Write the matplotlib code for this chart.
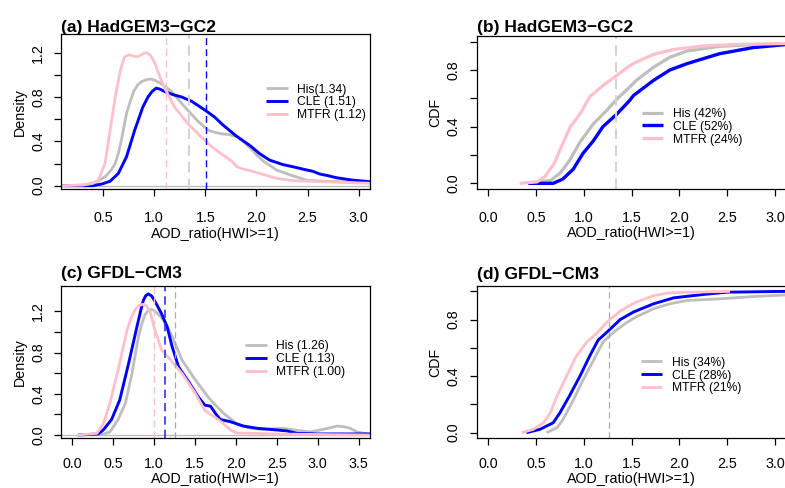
import matplotlib
matplotlib.use('Agg')
import matplotlib.pyplot as plt
import numpy as np

plt.rcParams['font.family'] = ['Liberation Sans', 'DejaVu Sans']

W, H = 785, 488

# ---------------- data ----------------
# (a) HadGEM3-GC2 densities
a_his_x = [0.09, 0.30, 0.43, 0.52, 0.58, 0.62, 0.65, 0.68, 0.73, 0.77, 0.80, 0.84, 0.88, 0.92, 0.96, 1.00, 1.07,
           1.17, 1.30, 1.43, 1.53, 1.60, 1.67, 1.74, 1.81, 1.87, 1.94, 2.00, 2.07, 2.20, 2.33, 2.49, 2.66, 3.11]
a_his_y = [0.0, 0.005, 0.03, 0.08, 0.14, 0.20, 0.29, 0.41, 0.65, 0.77, 0.85, 0.91, 0.94, 0.955, 0.963, 0.955, 0.92,
           0.85, 0.71, 0.58, 0.50, 0.48, 0.467, 0.46, 0.44, 0.40, 0.34, 0.28, 0.22, 0.14, 0.097, 0.05, 0.04, 0.03]
a_cle_x = [0.09, 0.40, 0.49, 0.57, 0.65, 0.73, 0.81, 0.89, 0.94, 0.98, 1.02, 1.06, 1.10, 1.19, 1.27, 1.37, 1.50,
           1.59, 1.67, 1.80, 1.94, 2.03, 2.13, 2.26, 2.36, 2.46, 2.55, 2.62, 2.70, 2.78, 2.94, 3.11]
a_cle_y = [0.0, 0.0, 0.015, 0.04, 0.11, 0.26, 0.50, 0.71, 0.80, 0.85, 0.88, 0.87, 0.85, 0.82, 0.80, 0.76, 0.68,
           0.62, 0.55, 0.45, 0.36, 0.29, 0.23, 0.19, 0.17, 0.148, 0.13, 0.105, 0.09, 0.072, 0.05, 0.036]
a_mtfr_x = [0.09, 0.30, 0.40, 0.455, 0.52, 0.57, 0.62, 0.67, 0.71, 0.75, 0.78, 0.81, 0.84, 0.87, 0.90, 0.93, 0.97,
            1.01, 1.07, 1.12, 1.20, 1.33, 1.46, 1.545, 1.62, 1.70, 1.76, 1.81, 1.87, 1.94, 2.07, 2.20, 2.36, 2.62,
            3.11]
a_mtfr_y = [0.0, 0.005, 0.02, 0.05, 0.20, 0.50, 0.80, 1.04, 1.16, 1.18, 1.175, 1.165, 1.165, 1.18, 1.195, 1.20,
            1.17, 1.10, 0.95, 0.85, 0.71, 0.56, 0.44, 0.367, 0.31, 0.26, 0.22, 0.17, 0.15, 0.135, 0.10, 0.066, 0.045,
            0.036, 0.022]
a_means = [1.34, 1.51, 1.12]
a_labels = ['His(1.34)', 'CLE (1.51)', 'MTFR (1.12)']

# (b) HadGEM3-GC2 CDFs
b_his_x = [0.42, 0.65, 0.75, 0.85, 0.96, 1.10, 1.24, 1.34, 1.48, 1.55, 1.73, 1.90, 2.08, 2.42, 2.77, 3.12]
b_his_y = [0.0, 0.02, 0.07, 0.16, 0.29, 0.42, 0.515, 0.59, 0.68, 0.727, 0.82, 0.89, 0.934, 0.967, 0.979, 0.985]
b_cle_x = [0.42, 0.68, 0.78, 0.89, 0.99, 1.10, 1.20, 1.34, 1.48, 1.52, 1.73, 1.90, 2.08, 2.25, 2.42, 2.77, 3.12]
b_cle_y = [0.0, 0.0, 0.03, 0.10, 0.21, 0.30, 0.40, 0.485, 0.585, 0.62, 0.727, 0.80, 0.845, 0.88, 0.915, 0.958, 0.98]
b_mtfr_x = [0.33, 0.51, 0.59, 0.69, 0.78, 0.86, 0.97, 1.06, 1.20, 1.34, 1.48, 1.55, 1.73, 1.94, 2.25, 2.60, 3.12]
b_mtfr_y = [0.0, 0.01, 0.045, 0.14, 0.28, 0.40, 0.50, 0.61, 0.69, 0.76, 0.83, 0.856, 0.91, 0.945, 0.97, 0.98, 0.987]
b_thresh = 1.34
b_labels = ['His (42%)', 'CLE (52%)', 'MTFR (24%)']

# (c) GFDL-CM3 densities
c_his_x = [0.35, 0.46, 0.56, 0.65, 0.73, 0.81, 0.85, 0.89, 0.92, 0.95, 0.99, 1.03, 1.08, 1.13, 1.22, 1.34, 1.50,
           1.66, 1.75, 1.85, 2.01, 2.15, 2.30, 2.45, 2.58, 2.75, 2.91, 3.07, 3.24, 3.32, 3.40, 3.48, 3.64]
c_his_y = [0.0, 0.03, 0.15, 0.31, 0.60, 0.96, 1.08, 1.17, 1.20, 1.22, 1.215, 1.19, 1.15, 1.10, 0.96, 0.73, 0.54,
           0.37, 0.29, 0.21, 0.11, 0.07, 0.055, 0.06, 0.065, 0.045, 0.03, 0.055, 0.087, 0.08, 0.065, 0.03, 0.005]
c_cle_x = [0.07, 0.32, 0.38, 0.48, 0.58, 0.69, 0.79, 0.84, 0.87, 0.90, 0.93, 0.97, 1.01, 1.09, 1.16, 1.22, 1.30,
           1.42, 1.54, 1.62, 1.69, 1.75, 1.81, 1.93, 2.09, 2.26, 2.50, 2.62, 2.75, 3.00, 3.64]
c_cle_y = [0.0, 0.01, 0.05, 0.15, 0.34, 0.70, 1.05, 1.22, 1.31, 1.355, 1.37, 1.35, 1.30, 1.18, 1.05, 0.86, 0.66,
           0.52, 0.37, 0.29, 0.28, 0.21, 0.15, 0.13, 0.087, 0.065, 0.049, 0.04, 0.016, 0.01, 0.01]
c_mtfr_x = [0.07, 0.30, 0.38, 0.46, 0.56, 0.67, 0.72, 0.77, 0.82, 0.87, 0.91, 0.95, 1.01, 1.09, 1.20, 1.34, 1.50,
            1.62, 1.69, 1.75, 1.85, 1.93, 2.01, 2.50, 3.00, 3.64]
c_mtfr_y = [0.0, 0.016, 0.11, 0.31, 0.63, 1.02, 1.14, 1.22, 1.26, 1.27, 1.25, 1.20, 1.02, 0.83, 0.73, 0.60, 0.41,
            0.24, 0.20, 0.17, 0.11, 0.05, 0.02, 0.01, 0.005, 0.0]
c_means = [1.26, 1.13, 1.00]
c_labels = ['His (1.26)', 'CLE (1.13)', 'MTFR (1.00)']

# (d) GFDL-CM3 CDFs
d_his_x = [0.61, 0.72, 0.78, 0.89, 0.99, 1.10, 1.20, 1.31, 1.45, 1.55, 1.73, 1.90, 2.08, 2.42, 2.77, 3.12]
d_his_y = [0.0, 0.035, 0.09, 0.23, 0.37, 0.51, 0.64, 0.71, 0.78, 0.82, 0.877, 0.912, 0.935, 0.947, 0.963, 0.975]
d_cle_x = [0.40, 0.54, 0.68, 0.75, 0.85, 0.96, 1.06, 1.15, 1.24, 1.38, 1.52, 1.73, 1.94, 2.25, 2.49, 3.12]
d_cle_y = [0.0, 0.023, 0.07, 0.14, 0.26, 0.40, 0.54, 0.655, 0.71, 0.80, 0.854, 0.912, 0.954, 0.978, 0.994, 1.0]
d_mtfr_x = [0.35, 0.47, 0.58, 0.65, 0.72, 0.82, 0.92, 1.03, 1.13, 1.24, 1.38, 1.48, 1.55, 1.73, 1.90, 2.53]
d_mtfr_y = [0.0, 0.023, 0.07, 0.14, 0.26, 0.40, 0.54, 0.64, 0.70, 0.78, 0.86, 0.90, 0.924, 0.97, 0.99, 1.0]
d_thresh = 1.26
d_labels = ['His (34%)', 'CLE (28%)', 'MTFR (21%)']

titles = ['(a) HadGEM3\u2212GC2', '(b) HadGEM3\u2212GC2', '(c) GFDL\u2212CM3', '(d) GFDL\u2212CM3']
xlabel = 'AOD_ratio(HWI>=1)'

GRAY = '#BEBEBE'
BLUE = '#0000FF'
PINK = '#FFC0CB'
COLORS = [GRAY, BLUE, PINK]
LWS = [2.0, 2.1, 2.0]

FS_TICK = 10.3
FS_TITLE = 12.6
FS_LEG = 8.7

# ---------------- figure ----------------
fig = plt.figure(figsize=(W / 100, H / 100), dpi=100)


def make_ax(l, r, t, b):
    return fig.add_axes([l / W, 1 - b / H, (r - l) / W, (b - t) / H])


def style(ax, xticks, yticks, ylabel, xlab_y, xpad):
    ax.set_xticks(xticks, labels=['%.1f' % v for v in xticks])
    ylabs = [('%.1f' % v) if i % 2 == 0 else '' for i, v in enumerate(yticks)]
    ax.set_yticks(yticks, labels=ylabs)
    ax.tick_params(axis='both', direction='out', length=5, width=0.9, labelsize=FS_TICK, colors='black')
    ax.tick_params(axis='x', pad=xpad)
    ax.tick_params(axis='y', pad=6.5, labelrotation=90)
    for lab in ax.get_yticklabels():
        lab.set_va('center')
    for s in ax.spines.values():
        s.set_linewidth(0.9)
        s.set_color('black')
    ax.set_xlabel(xlabel, fontsize=FS_TICK)
    ax.xaxis.set_label_coords(0.5, xlab_y)
    ax.set_ylabel(ylabel, fontsize=FS_TICK)
    ax.yaxis.set_label_coords(-0.112, 0.5)


def legend(ax, labels, x_px, ymid_px):
    ax.legend(labels=labels, handles=ax.lines[:3], loc='center left',
              bbox_to_anchor=(x_px / W, 1 - ymid_px / H), bbox_transform=fig.transFigure,
              frameon=False, fontsize=FS_LEG, handlelength=1.8, handletextpad=0.75,
              labelspacing=0.08, borderpad=0, borderaxespad=0)


# (a)
ax = make_ax(61, 370, 34.3, 189)
for xs, ys, c, lw in zip([a_his_x, a_cle_x, a_mtfr_x], [a_his_y, a_cle_y, a_mtfr_y], COLORS, LWS):
    ax.plot(xs, ys, color=c, lw=lw, solid_capstyle='butt', solid_joinstyle='round')
ax.axhline(0, color=GRAY, lw=1.0, zorder=0)
ax.axvline(a_means[2], color=PINK, lw=1.0, dashes=(5, 3))
ax.axvline(a_means[0], color='#D3D3D3', lw=1.5, dashes=(5, 3))
ax.axvline(a_means[1], color=BLUE, lw=1.0, dashes=(5, 3))
ax.set_xlim(0.09, 3.11)
ax.set_ylim(-0.03, 1.366)
style(ax, [0.5, 1.0, 1.5, 2.0, 2.5, 3.0], [0.0, 0.2, 0.4, 0.6, 0.8, 1.0, 1.2], 'Density', -0.245, 11.0)
legend(ax, a_labels, 266, 102.5)
fig.text(61 / W, 1 - 31.7 / H, titles[0], fontsize=FS_TITLE, fontweight='bold', va='baseline', ha='left')

# (b)
ax = make_ax(476.7, 786.5, 36, 189)
for xs, ys, c, lw in zip([b_his_x, b_cle_x, b_mtfr_x], [b_his_y, b_cle_y, b_mtfr_y], COLORS, LWS):
    ax.plot(xs, ys, color=c, lw=lw + 0.3, solid_capstyle='butt', solid_joinstyle='round')
ax.axvline(b_thresh, color='#D3D3D3', lw=1.5, dashes=(5, 3))
ax.set_xlim(-0.12, 3.12)
ax.set_ylim(-0.04, 1.04)
style(ax, [0.0, 0.5, 1.0, 1.5, 2.0, 2.5, 3.0], [0.0, 0.2, 0.4, 0.6, 0.8, 1.0], 'CDF', -0.245, 11.0)
legend(ax, b_labels, 641.7, 126.7)
fig.text(477 / W, 1 - 31.7 / H, titles[1], fontsize=FS_TITLE, fontweight='bold', va='baseline', ha='left')

# (c)
ax = make_ax(61, 370, 285.7, 438.3)
for xs, ys, c, lw in zip([c_his_x, c_cle_x, c_mtfr_x], [c_his_y, c_cle_y, c_mtfr_y], COLORS, LWS):
    ax.plot(xs, ys, color=c, lw=lw, solid_capstyle='butt', solid_joinstyle='round')
ax.axhline(0, color=GRAY, lw=1.0, zorder=0)
ax.axvline(c_means[2], color=PINK, lw=1.0, dashes=(5, 3))
ax.axvline(c_means[1], color='#3030FF', lw=1.2, dashes=(5, 3))
ax.axvline(c_means[0], color='#AAAAAA', lw=0.9, dashes=(5, 3))
ax.set_xlim(-0.138, 3.64)
ax.set_ylim(-0.032, 1.45)
style(ax, [0.0, 0.5, 1.0, 1.5, 2.0, 2.5, 3.0, 3.5], [0.0, 0.2, 0.4, 0.6, 0.8, 1.0, 1.2], 'Density', -0.2195, 8.8)
legend(ax, c_labels, 245, 359.3)
fig.text(61 / W, 1 - 278.3 / H, titles[2], fontsize=FS_TITLE, fontweight='bold', va='baseline', ha='left')

# (d)
ax = make_ax(476.7, 786.5, 285.7, 438.3)
for xs, ys, c, lw in zip([d_his_x, d_cle_x, d_mtfr_x], [d_his_y, d_cle_y, d_mtfr_y], COLORS, LWS):
    ax.plot(xs, ys, color=c, lw=lw, solid_capstyle='butt', solid_joinstyle='round')
ax.axvline(d_thresh, color='#AAAAAA', lw=0.9, dashes=(5, 3))
ax.set_xlim(-0.12, 3.12)
ax.set_ylim(-0.04, 1.04)
style(ax, [0.0, 0.5, 1.0, 1.5, 2.0, 2.5, 3.0], [0.0, 0.2, 0.4, 0.6, 0.8, 1.0], 'CDF', -0.2195, 8.8)
legend(ax, d_labels, 640.7, 375.5)
fig.text(477 / W, 1 - 279 / H, titles[3], fontsize=FS_TITLE, fontweight='bold', va='baseline', ha='left')

fig.savefig('out.png', dpi=100)
